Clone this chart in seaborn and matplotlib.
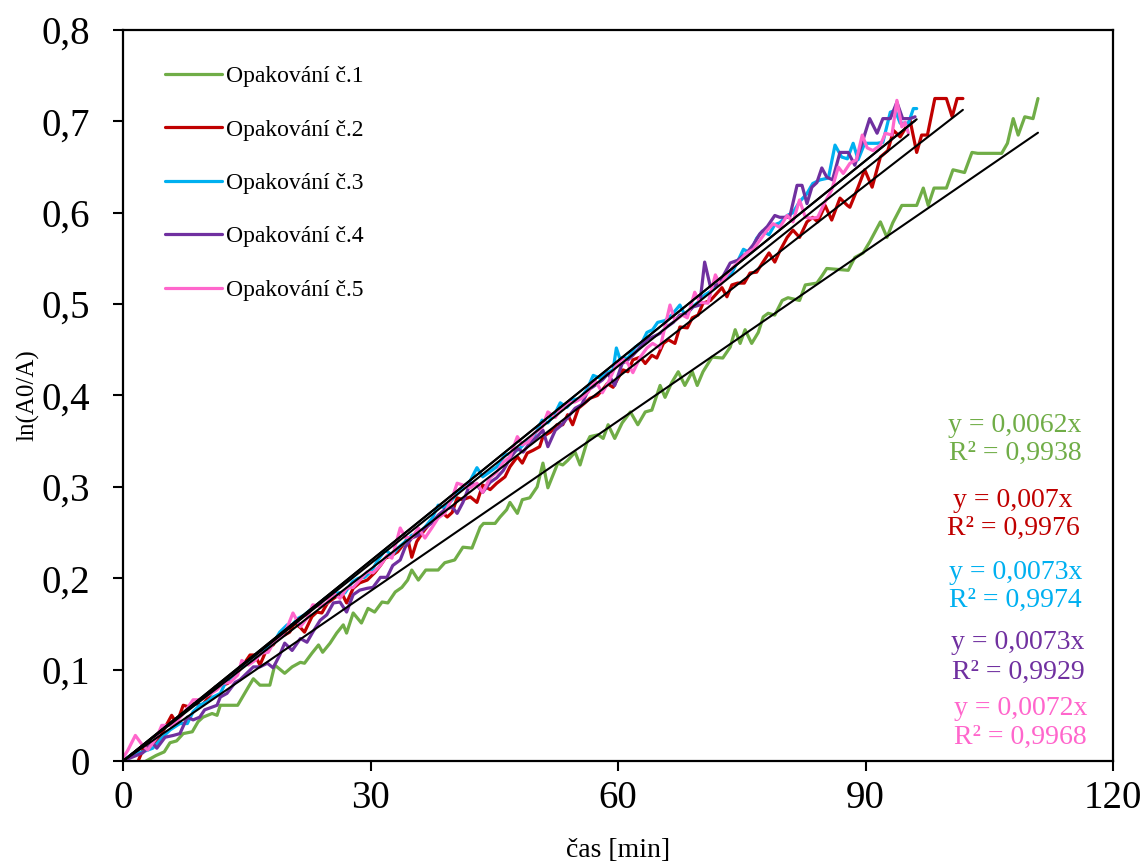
import numpy as np
import pandas as pd
import matplotlib
matplotlib.use("Agg")
import matplotlib.pyplot as plt
import seaborn as sns

# ---------------- data ----------------
series_names = ["Opakování č.1", "Opakování č.2", "Opakování č.3", "Opakování č.4", "Opakování č.5"]
series_colors = ["#70AD47", "#C00000", "#00B0F0", "#7030A0", "#FF66CC"]

t1 = [2.8, 4.0, 5.0, 5.7, 6.5, 7.3, 8.4, 9.1, 9.7, 10.8, 11.4, 11.8, 13.9, 15.2, 15.8, 16.6, 17.8, 18.4, 19.6,
      20.5, 21.5, 22.0, 22.9, 23.7, 24.2, 25.1, 25.9, 26.7, 27.1, 27.9, 28.9, 29.7, 30.5, 31.4, 32.1, 33.0,
      33.8, 34.5, 35.0, 35.8, 36.7, 38.2, 39.0, 40.2, 41.2, 42.3, 43.3, 43.7, 45.1, 45.7, 46.5, 46.9, 47.8,
      48.4, 49.3, 50.2, 50.9, 51.5, 52.7, 53.3, 53.9, 54.8, 55.4, 56.2, 56.6, 57.6, 58.2, 58.8, 59.6, 60.5,
      61.5, 62.4, 63.3, 64.1, 65.1, 65.7, 66.5, 67.3, 68.1, 69.0, 69.6, 70.3, 71.4, 72.7, 73.6, 74.2, 74.8,
      75.4, 76.2, 77.0, 77.6, 78.2, 79.0, 79.9, 80.6, 82.0, 82.7, 84.1, 84.8, 85.3, 87.9, 88.7, 89.7, 90.5,
      91.8, 92.6, 93.3, 94.4, 96.2, 97.0, 97.6, 98.3, 99.8, 100.6, 102.0, 102.9, 103.6, 106.5, 107.2, 107.9,
      108.5, 109.3, 110.3, 110.9]
y1 = [0.000, 0.006, 0.010, 0.020, 0.022, 0.030, 0.032, 0.043, 0.048, 0.052, 0.050, 0.061, 0.061, 0.081, 0.090,
      0.083, 0.083, 0.105, 0.096, 0.103, 0.108, 0.107, 0.118, 0.127, 0.119, 0.129, 0.140, 0.149, 0.140, 0.162,
      0.151, 0.167, 0.163, 0.174, 0.173, 0.185, 0.190, 0.198, 0.209, 0.198, 0.209, 0.209, 0.217, 0.220, 0.234,
      0.233, 0.256, 0.260, 0.260, 0.267, 0.275, 0.283, 0.271, 0.286, 0.288, 0.300, 0.326, 0.299, 0.326, 0.324,
      0.329, 0.338, 0.324, 0.348, 0.355, 0.357, 0.353, 0.368, 0.353, 0.370, 0.382, 0.368, 0.382, 0.384, 0.411,
      0.398, 0.414, 0.426, 0.411, 0.426, 0.411, 0.426, 0.442, 0.441, 0.453, 0.472, 0.457, 0.472, 0.457, 0.469,
      0.486, 0.490, 0.488, 0.504, 0.507, 0.504, 0.521, 0.523, 0.532, 0.539, 0.537, 0.551, 0.556, 0.568, 0.590,
      0.573, 0.589, 0.608, 0.608, 0.627, 0.608, 0.627, 0.627, 0.647, 0.644, 0.666, 0.665, 0.665, 0.676, 0.703,
      0.685, 0.705, 0.703, 0.725]

t2 = [0.0, 1.7, 2.4, 3.0, 4.1, 4.7, 5.9, 6.5, 7.3, 8.1, 8.7, 9.6, 10.3, 11.2, 12.1, 12.7, 13.8, 14.4, 15.4, 16.0,
      16.6, 17.5, 18.2, 18.8, 19.6, 20.2, 20.8, 21.5, 22.0, 22.9, 23.5, 24.1, 24.8, 25.7, 26.5, 27.1, 27.9, 28.7,
      29.6, 30.5, 31.2, 31.8, 32.6, 33.3, 33.9, 34.5, 35.0, 35.6, 36.4, 37.0, 37.8, 38.7, 39.3, 39.9, 40.5, 41.2,
      42.1, 42.9, 43.6, 44.5, 45.3, 46.3, 46.9, 47.8, 48.4, 49.0, 49.7, 50.5, 50.9, 51.8, 52.6, 53.3, 53.9, 54.5,
      55.2, 56.0, 56.6, 57.5, 58.1, 58.7, 59.4, 60.0, 60.6, 61.2, 61.8, 62.7, 63.3, 64.1, 64.7, 65.5, 66.1, 66.9,
      67.5, 68.4, 69.0, 69.7, 70.3, 71.2, 72.0, 72.6, 73.2, 73.8, 74.5, 75.3, 76.0, 76.8, 77.5, 78.3, 79.0, 79.6,
      80.5, 81.2, 82.0, 82.9, 83.6, 84.2, 85.1, 85.9, 86.9, 87.8, 88.1, 89.1, 89.9, 90.8, 91.8, 92.7, 93.4, 94.2,
      95.4, 96.2, 96.8, 97.5, 98.4, 99.8, 100.5, 101.1, 101.8]
y2 = [0.000, -0.003, 0.012, 0.020, 0.021, 0.030, 0.050, 0.041, 0.061, 0.059, 0.063, 0.061, 0.069, 0.081, 0.083,
      0.085, 0.096, 0.103, 0.116, 0.116, 0.105, 0.124, 0.127, 0.136, 0.138, 0.141, 0.151, 0.146, 0.141, 0.158,
      0.163, 0.162, 0.173, 0.179, 0.184, 0.173, 0.189, 0.195, 0.198, 0.206, 0.214, 0.222, 0.225, 0.229, 0.236,
      0.244, 0.223, 0.240, 0.251, 0.258, 0.264, 0.272, 0.267, 0.272, 0.288, 0.286, 0.289, 0.283, 0.302, 0.297,
      0.304, 0.311, 0.322, 0.333, 0.326, 0.337, 0.340, 0.344, 0.355, 0.360, 0.368, 0.368, 0.379, 0.368, 0.386,
      0.392, 0.397, 0.400, 0.406, 0.413, 0.409, 0.419, 0.428, 0.426, 0.439, 0.442, 0.435, 0.444, 0.441, 0.457,
      0.461, 0.457, 0.475, 0.474, 0.485, 0.488, 0.501, 0.504, 0.512, 0.518, 0.508, 0.521, 0.523, 0.523, 0.534,
      0.535, 0.545, 0.556, 0.546, 0.558, 0.573, 0.581, 0.573, 0.590, 0.595, 0.590, 0.608, 0.592, 0.616, 0.608,
      0.606, 0.628, 0.647, 0.628, 0.661, 0.668, 0.690, 0.683, 0.701, 0.666, 0.685, 0.685, 0.725, 0.725, 0.705,
      0.725, 0.725]

t3 = [0.0, 1.2, 2.4, 3.6, 4.8, 5.7, 6.9, 7.8, 8.5, 9.3, 10.2, 10.9, 11.8, 12.6, 13.3, 14.2, 15.0, 15.6, 16.6, 17.5,
      18.2, 19.0, 19.9, 20.5, 21.2, 22.0, 22.9, 23.6, 24.5, 25.3, 26.1, 26.9, 27.8, 28.5, 29.3, 30.2, 30.9, 31.8,
      32.6, 33.3, 34.2, 35.0, 35.8, 36.6, 37.5, 38.2, 39.0, 39.9, 40.5, 41.2, 42.1, 42.9, 43.6, 44.7, 45.3, 46.3,
      47.2, 48.1, 49.0, 49.9, 50.8, 51.5, 52.4, 53.0, 53.8, 54.5, 55.4, 56.2, 57.0, 57.8, 58.7, 59.4, 59.8, 60.2,
      61.2, 62.1, 62.9, 63.5, 64.2, 64.8, 65.7, 66.5, 67.5, 68.1, 69.0, 69.7, 70.5, 71.4, 72.1, 73.0, 73.8, 74.4,
      75.2, 76.0, 76.8, 77.5, 78.3, 79.0, 79.6, 80.5, 81.2, 82.0, 82.9, 83.6, 84.5, 85.5, 86.3, 87.1, 87.8, 88.5,
      89.1, 89.9, 91.4, 92.1, 93.0, 93.6, 94.2, 95.2, 95.8, 96.2]
y3 = [0.000, 0.008, 0.010, 0.014, 0.026, 0.034, 0.041, 0.041, 0.054, 0.061, 0.065, 0.070, 0.074, 0.089, 0.091,
      0.102, 0.108, 0.113, 0.119, 0.125, 0.129, 0.141, 0.149, 0.149, 0.156, 0.160, 0.167, 0.171, 0.178, 0.182,
      0.184, 0.184, 0.196, 0.200, 0.201, 0.209, 0.220, 0.231, 0.225, 0.233, 0.240, 0.247, 0.249, 0.256, 0.266,
      0.280, 0.277, 0.286, 0.293, 0.299, 0.307, 0.321, 0.311, 0.318, 0.322, 0.335, 0.337, 0.342, 0.351, 0.357,
      0.373, 0.370, 0.381, 0.392, 0.387, 0.395, 0.397, 0.406, 0.422, 0.419, 0.425, 0.428, 0.452, 0.441, 0.441,
      0.453, 0.458, 0.469, 0.472, 0.480, 0.482, 0.488, 0.499, 0.488, 0.497, 0.502, 0.510, 0.515, 0.521, 0.528,
      0.534, 0.545, 0.560, 0.556, 0.572, 0.580, 0.576, 0.587, 0.589, 0.597, 0.600, 0.612, 0.621, 0.632, 0.636,
      0.638, 0.674, 0.661, 0.659, 0.676, 0.658, 0.676, 0.676, 0.677, 0.710, 0.712, 0.698, 0.698, 0.714, 0.714]

t4 = [0.0, 0.8, 2.4, 3.6, 4.1, 5.1, 6.1, 6.9, 7.8, 8.5, 9.3, 9.9, 10.8, 11.4, 11.8, 12.6, 13.6, 14.2, 15.0, 15.8,
      16.6, 17.5, 18.2, 19.0, 19.6, 20.5, 21.5, 22.3, 23.0, 23.9, 24.7, 25.5, 26.3, 27.1, 27.9, 28.7, 29.6, 30.3,
      31.2, 32.0, 32.7, 33.6, 34.2, 35.0, 35.8, 36.6, 37.5, 38.2, 39.0, 39.9, 40.5, 41.2, 42.1, 42.9, 43.6, 44.5,
      45.3, 46.1, 46.9, 47.8, 48.5, 49.3, 50.2, 50.9, 51.5, 52.4, 53.2, 53.9, 54.8, 55.6, 56.4, 57.2, 58.1, 58.8,
      59.6, 60.5, 61.2, 61.8, 62.7, 63.5, 64.2, 65.1, 65.9, 66.7, 67.5, 68.4, 69.1, 69.9, 70.5, 71.2, 72.0, 72.7,
      73.6, 74.5, 75.6, 76.4, 77.2, 78.1, 79.0, 79.6, 80.8, 81.7, 82.3, 82.9, 83.5, 84.1, 84.7, 85.3, 86.0, 86.9,
      87.9, 88.7, 89.6, 90.5, 91.4, 92.1, 93.0, 93.8, 94.5, 95.4, 96.0]
y4 = [0.000, 0.003, 0.009, 0.020, 0.014, 0.026, 0.028, 0.030, 0.048, 0.045, 0.048, 0.056, 0.059, 0.061, 0.070,
      0.074, 0.086, 0.089, 0.096, 0.103, 0.103, 0.107, 0.102, 0.116, 0.129, 0.121, 0.134, 0.130, 0.141, 0.154,
      0.160, 0.173, 0.174, 0.163, 0.182, 0.187, 0.189, 0.190, 0.201, 0.201, 0.214, 0.220, 0.234, 0.244, 0.247,
      0.255, 0.261, 0.269, 0.275, 0.278, 0.271, 0.283, 0.304, 0.302, 0.294, 0.305, 0.310, 0.318, 0.331, 0.342,
      0.338, 0.348, 0.355, 0.362, 0.344, 0.362, 0.368, 0.376, 0.386, 0.390, 0.406, 0.411, 0.417, 0.424, 0.411,
      0.435, 0.439, 0.444, 0.453, 0.461, 0.464, 0.468, 0.475, 0.480, 0.488, 0.490, 0.497, 0.499, 0.546, 0.519,
      0.521, 0.530, 0.545, 0.548, 0.556, 0.565, 0.577, 0.585, 0.597, 0.595, 0.595, 0.630, 0.630, 0.610, 0.628,
      0.633, 0.649, 0.639, 0.636, 0.666, 0.666, 0.652, 0.677, 0.703, 0.687, 0.703, 0.703, 0.721, 0.703, 0.703,
      0.705]

t5 = [0.0, 0.6, 1.5, 2.3, 3.0, 4.1, 4.7, 5.7, 6.5, 7.5, 8.5, 9.3, 10.3, 11.4, 12.1, 13.0, 13.9, 14.4, 15.2, 16.0,
      16.8, 17.6, 18.4, 19.3, 19.9, 20.6, 21.5, 22.3, 23.0, 23.9, 24.7, 25.5, 26.3, 27.1, 27.9, 28.7, 29.6, 30.3,
      31.2, 32.0, 32.6, 33.6, 34.2, 35.0, 35.8, 36.6, 37.5, 38.2, 39.0, 39.9, 40.5, 41.2, 42.1, 42.9, 43.6, 44.5,
      45.3, 46.1, 46.9, 47.8, 48.4, 49.1, 49.9, 50.8, 51.5, 52.4, 53.2, 53.9, 54.8, 55.6, 56.4, 57.2, 58.1, 58.8,
      59.6, 60.5, 61.2, 61.8, 62.7, 63.5, 64.2, 65.1, 66.3, 66.9, 67.8, 68.4, 69.3, 69.9, 70.9, 71.8, 72.4, 73.2,
      73.9, 74.8, 75.6, 76.4, 77.2, 78.0, 78.8, 79.6, 80.5, 81.2, 82.0, 82.7, 83.5, 84.2, 85.1, 85.9, 86.7, 87.3,
      88.1, 88.9, 89.6, 90.2, 90.9, 91.8, 92.4, 93.2, 93.8, 94.4, 94.8, 95.2]
y5 = [0.003, 0.012, 0.028, 0.018, 0.012, 0.026, 0.039, 0.039, 0.043, 0.054, 0.067, 0.067, 0.072, 0.078, 0.085,
      0.086, 0.094, 0.110, 0.105, 0.110, 0.118, 0.119, 0.132, 0.138, 0.146, 0.162, 0.147, 0.156, 0.171, 0.169,
      0.173, 0.184, 0.178, 0.189, 0.190, 0.198, 0.207, 0.206, 0.214, 0.225, 0.222, 0.255, 0.245, 0.244, 0.255,
      0.244, 0.256, 0.266, 0.271, 0.288, 0.304, 0.302, 0.299, 0.304, 0.294, 0.310, 0.316, 0.327, 0.333, 0.355,
      0.346, 0.349, 0.359, 0.365, 0.382, 0.376, 0.387, 0.392, 0.393, 0.397, 0.404, 0.417, 0.403, 0.414, 0.430,
      0.441, 0.435, 0.425, 0.442, 0.452, 0.457, 0.452, 0.499, 0.482, 0.488, 0.485, 0.513, 0.502, 0.501, 0.532,
      0.521, 0.532, 0.540, 0.548, 0.556, 0.560, 0.570, 0.580, 0.588, 0.584, 0.597, 0.590, 0.614, 0.595, 0.594,
      0.595, 0.612, 0.625, 0.650, 0.643, 0.654, 0.658, 0.685, 0.671, 0.668, 0.674, 0.687, 0.685, 0.723, 0.694,
      0.699, 0.687]

trend_slopes = [0.0062, 0.007, 0.0073, 0.0073, 0.0072]
eq_labels = ["y = 0,0062x", "y = 0,007x", "y = 0,0073x", "y = 0,0073x", "y = 0,0072x"]
r2_labels = ["R² = 0,9938", "R² = 0,9976", "R² = 0,9974", "R² = 0,9929", "R² = 0,9968"]

x_ticks = [0, 30, 60, 90, 120]
y_ticks = [0, 0.1, 0.2, 0.3, 0.4, 0.5, 0.6, 0.7, 0.8]
y_tick_labels = ["0", "0,1", "0,2", "0,3", "0,4", "0,5", "0,6", "0,7", "0,8"]

# ---------------- figure ----------------
sns.set_theme(style="ticks")
plt.rcParams["font.family"] = ["Liberation Serif", "DejaVu Serif"]
plt.rcParams["text.color"] = "black"

times = [t1, t2, t3, t4, t5]
values = [y1, y2, y3, y4, y5]
frames = []
for name, t, v in zip(series_names, times, values):
    frames.append(pd.DataFrame({"čas": t, "val": v, "série": name}))
df = pd.concat(frames, ignore_index=True)

fig = plt.figure(figsize=(11.43, 8.64), dpi=100)
ax = fig.add_axes([0.1076, 0.1192, 0.8662, 0.8461])

sns.lineplot(data=df, x="čas", y="val", hue="série", hue_order=series_names,
             palette=series_colors, sort=False, estimator=None, linewidth=2.3,
             solid_joinstyle="round", solid_capstyle="round", ax=ax)

# trend lines (through origin)
for t, k in zip(times, trend_slopes):
    xe = np.array([0.0, max(t)])
    ax.plot(xe, k * xe, color="black", linewidth=1.5, label="_nolegend_", zorder=5)

ax.set_xlim(0, 120)
ax.set_ylim(0, 0.8)
ax.set_xticks(x_ticks)
ax.set_xticklabels([str(v) for v in x_ticks])
ax.set_yticks(y_ticks)
ax.set_yticklabels(y_tick_labels)
ax.tick_params(axis="both", which="major", labelsize=28, length=7, width=1.5,
               direction="out", color="black", labelcolor="black")
ax.tick_params(axis="x", pad=7)
ax.tick_params(axis="y", pad=17)
for s in ax.spines.values():
    s.set_visible(True)
    s.set_linewidth(1.6)
    s.set_color("black")

ax.set_xlabel("čas [min]", fontsize=20, color="black", va="center")
ax.set_ylabel("ln(A0/A)", fontsize=18, color="black", va="center")
ax.xaxis.set_label_coords(0.5, -(850 - 761) / 731)
ax.yaxis.set_label_coords(-(123 - 28) / 990, 0.5)

handles, labels = ax.get_legend_handles_labels()
ax.legend(handles[:5], labels[:5], loc="upper left", bbox_to_anchor=(0.033, 0.964),
          frameon=False, fontsize=17, labelspacing=1.35, handlelength=2.4,
          handletextpad=0.17, borderaxespad=0.0, labelcolor="black")

eq_x = [108.1, 107.9, 108.2, 108.5, 108.8]
eq_y = [0.3676, 0.2856, 0.2068, 0.1302, 0.0580]
r2_y = [0.3370, 0.2549, 0.1761, 0.0974, 0.0263]
for c, ex, ey, ry, e, r in zip(series_colors, eq_x, eq_y, r2_y, eq_labels, r2_labels):
    ax.text(ex, ey, e, color=c, fontsize=20, ha="center", va="center")
    ax.text(ex, ry, r, color=c, fontsize=20, ha="center", va="center")

fig.savefig("out.png", dpi=100)
